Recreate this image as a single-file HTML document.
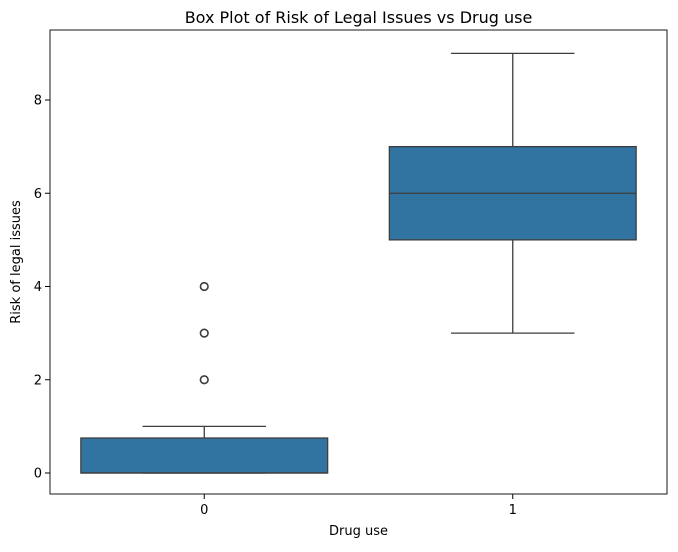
<!DOCTYPE html>
<html><head><meta charset="utf-8"><style>
body{margin:0;background:#fff;font-family:"Liberation Sans","DejaVu Sans",sans-serif;}
</style></head><body>
<svg id="chart" width="678" height="547" xmlns="http://www.w3.org/2000/svg" font-family="DejaVu Sans, Liberation Sans, sans-serif"></svg>
<script>
const categories = ["0","1"];
const q1s = [0, 5];
const medians = [0, 6];
const q3s = [0.75, 7];
const whiskerLows = [0, 3];
const whiskerHighs = [1, 9];
const outliers = [[2,3,4],[]];
const yTicks = [0,2,4,6,8];

const L=50,R=667,T=30,B=494;
const y0px=473, pxPerUnit=(473-100)/8;
const sx = i => L + (i+0.5)*(R-L)/2;
const sy = v => y0px - v*pxPerUnit;
const halfW = 0.4*(R-L)/2;
const svg=document.getElementById('chart');
const NS="http://www.w3.org/2000/svg";
function mk(tag,attrs,parent){const e=document.createElementNS(NS,tag);for(const k in attrs)e.setAttribute(k,attrs[k]);(parent||svg).appendChild(e);return e;}

const title=mk('text',{x:(L+R)/2,y:23,'text-anchor':'middle','font-size':16,fill:'#000'});
title.textContent='Box Plot of Risk of Legal Issues vs Drug use';



categories.forEach((c,i)=>{
  const g=mk('g',{});
  
  
  const cx=sx(i);
  mk('line',{x1:cx,x2:cx,y1:sy(q1s[i]),y2:sy(whiskerLows[i]),stroke:'#3d3d3d','stroke-width':1.3},g);
  mk('line',{x1:cx,x2:cx,y1:sy(q3s[i]),y2:sy(whiskerHighs[i]),stroke:'#3d3d3d','stroke-width':1.3},g);
  mk('line',{x1:cx-halfW/2,x2:cx+halfW/2,y1:sy(whiskerLows[i]),y2:sy(whiskerLows[i]),stroke:'#3d3d3d','stroke-width':1.3},g);
  mk('line',{x1:cx-halfW/2,x2:cx+halfW/2,y1:sy(whiskerHighs[i]),y2:sy(whiskerHighs[i]),stroke:'#3d3d3d','stroke-width':1.3},g);
  mk('rect',{x:cx-halfW,y:sy(q3s[i]),width:2*halfW,height:Math.max(0,sy(q1s[i])-sy(q3s[i])),fill:'#3274a1',stroke:'#3d3d3d','stroke-width':1.3},g);
  mk('line',{x1:cx-halfW,x2:cx+halfW,y1:sy(medians[i]),y2:sy(medians[i]),stroke:'#3d3d3d','stroke-width':1.3},g);
  outliers[i].forEach(v=>{
    const o=mk('circle',{cx:cx,cy:sy(v),r:3.8,fill:'none',stroke:'#3d3d3d','stroke-width':1.6},g);
    
    
  });
  mk('line',{x1:cx,x2:cx,y1:B,y2:B+5,stroke:'#000'});
  const t=mk('text',{x:cx,y:B+20,'text-anchor':'middle','font-size':13,fill:'#000'});
  t.textContent=c;
  
  
});

yTicks.forEach(v=>{
  mk('line',{x1:L-5,x2:L,y1:sy(v),y2:sy(v),stroke:'#000'});
  const t=mk('text',{x:L-8,y:sy(v)+4.5,'text-anchor':'end','font-size':13,fill:'#000'});
  t.textContent=v;
  
  
});

const frame=mk('rect',{x:L,y:T,width:R-L,height:B-T,fill:'none',stroke:'#000','stroke-width':0.9});



const xl=mk('text',{x:(L+R)/2,y:535,'text-anchor':'middle','font-size':13,fill:'#000'});
xl.textContent='Drug use';


const yl=mk('text',{x:20,y:(T+B)/2,'text-anchor':'middle','font-size':13,fill:'#000',transform:'rotate(-90 20 '+((T+B)/2)+')'});
yl.textContent='Risk of legal issues';


</script>
</body></html>
